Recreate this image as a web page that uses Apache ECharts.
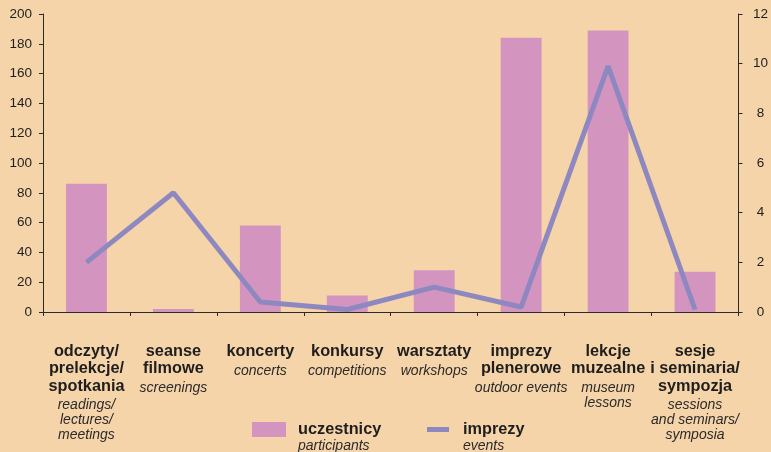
<!DOCTYPE html>
<html>
<head>
<meta charset="utf-8">
<script src="https://cdn.jsdelivr.net/npm/echarts@6/dist/echarts.min.js"></script>
<style>
  html, body { margin: 0; padding: 0; background: #f6d4a9; }
  #chart { width: 771px; height: 452px; }
</style>
</head>
<body>
<div id="chart"></div>
<script>
// kategorie (polskie nazwy, linie pogrubione) i podpisy angielskie (kursywa)
var categories = ['odczyty/\nprelekcje/\nspotkania', 'seanse\nfilmowe', 'koncerty', 'konkursy',
                  'warsztaty', 'imprezy\nplenerowe', 'lekcje\nmuzealne', 'sesje\ni seminaria/\nsympozja'];
var categoriesEn = ['readings/\nlectures/\nmeetings', 'screenings', 'concerts', 'competitions',
                    'workshops', 'outdoor events', 'museum\nlessons', 'sessions\nand seminars/\nsymposia'];

// uczestnicy (lewa oś) i imprezy (prawa oś)
var participants = [86, 2, 58, 11, 28, 184, 189, 27];
var events = [2, 4.8, 0.4, 0.1, 1, 0.2, 9.9, 0.1];

var leftTicks = { min: 0, max: 200, interval: 20 };
var rightTicks = { min: 0, max: 12, interval: 2 };

var seriesNames = ['uczestnicy', 'imprezy'];
var seriesNamesEn = ['participants', 'events'];

var FONT = 'Arial, "Liberation Sans", sans-serif';
var BAR_COLOR = '#d494c0';
var LINE_COLOR = '#8e88c0';
var AXIS_COLOR = '#2a2a2a';

function richLabel(pl, en) {
    var out = pl.split('\n').map(function (s) { return '{b|' + s + '}'; });
    en.split('\n').forEach(function (s, k) { out.push('{' + (k == 0 ? 'i0' : 'i') + '|' + s + '}'); });
    return out.join('\n');
}

var richStyles = {
    b: { fontFamily: FONT, fontWeight: 'bold', fontSize: 16.3, lineHeight: 17.3, color: '#1e1e1e' },
    i0: { fontFamily: FONT, fontStyle: 'italic', fontSize: 14, lineHeight: 18, color: '#2a2a2a', padding: [3, 0, 0, 0] },
    i: { fontFamily: FONT, fontStyle: 'italic', fontSize: 14, lineHeight: 15, color: '#2a2a2a' }
};

var legendRich = {
    b: { fontFamily: FONT, fontWeight: 'bold', fontSize: 16.3, lineHeight: 17, color: '#1e1e1e' },
    i: { fontFamily: FONT, fontStyle: 'italic', fontSize: 14, lineHeight: 15, color: '#2a2a2a' }
};

function legendFormatter(name) {
    var idx = seriesNames.indexOf(name);
    return '{b|' + name + '}\n{i|' + seriesNamesEn[idx] + '}';
}

var chart = echarts.init(document.getElementById('chart'));

chart.setOption({
    backgroundColor: '#f6d4a9',
    animation: false,
    grid: { left: 43, right: 29, top: 14, bottom: 140 },
    legend: [{
        data: [seriesNames[0]],
        left: 252, top: 422, padding: 0,
        icon: 'rect', itemWidth: 34, itemHeight: 15,
        selectedMode: false,
        formatter: legendFormatter,
        textStyle: { padding: [16, 0, 0, 7], rich: legendRich }
    }, {
        data: [{ name: seriesNames[1], icon: 'rect', itemStyle: { color: LINE_COLOR } }],
        left: 427, top: 422, padding: 0,
        itemWidth: 22, itemHeight: 5,
        selectedMode: false,
        formatter: legendFormatter,
        textStyle: { padding: [16, 0, 0, 9], rich: legendRich }
    }],
    xAxis: {
        type: 'category',
        data: categories,
        axisLine: { lineStyle: { color: AXIS_COLOR, width: 1 } },
        axisTick: { show: true, length: 4, lineStyle: { color: AXIS_COLOR } },
        axisLabel: {
            interval: 0,
            margin: 31,
            verticalAlign: 'top',
            formatter: function (v, i) { return richLabel(categories[i], categoriesEn[i]); },
            rich: richStyles
        }
    },
    yAxis: [{
        type: 'value',
        min: leftTicks.min, max: leftTicks.max, interval: leftTicks.interval,
        splitLine: { show: false },
        axisLine: { show: true, lineStyle: { color: AXIS_COLOR } },
        axisTick: { show: true, length: 4, lineStyle: { color: AXIS_COLOR } },
        axisLabel: { margin: 11, fontFamily: FONT, fontSize: 13.5, color: '#1e1e1e' }
    }, {
        type: 'value',
        position: 'right',
        min: rightTicks.min, max: rightTicks.max, interval: rightTicks.interval,
        splitLine: { show: false },
        axisLine: { show: true, lineStyle: { color: AXIS_COLOR } },
        axisTick: { show: true, length: 4, lineStyle: { color: AXIS_COLOR } },
        axisLabel: { margin: 22, align: 'center', fontFamily: FONT, fontSize: 13.5, color: '#1e1e1e' }
    }],
    series: [{
        name: seriesNames[0],
        type: 'bar',
        yAxisIndex: 0,
        data: participants,
        barWidth: '47%',
        itemStyle: { color: BAR_COLOR }
    }, {
        name: seriesNames[1],
        type: 'line',
        yAxisIndex: 1,
        data: events,
        showSymbol: false,
        symbol: 'none',
        lineStyle: { color: LINE_COLOR, width: 5 },
        itemStyle: { color: LINE_COLOR },
        z: 5
    }]
});

window.onresize = function () { chart.resize(); };
</script>
</body>
</html>
